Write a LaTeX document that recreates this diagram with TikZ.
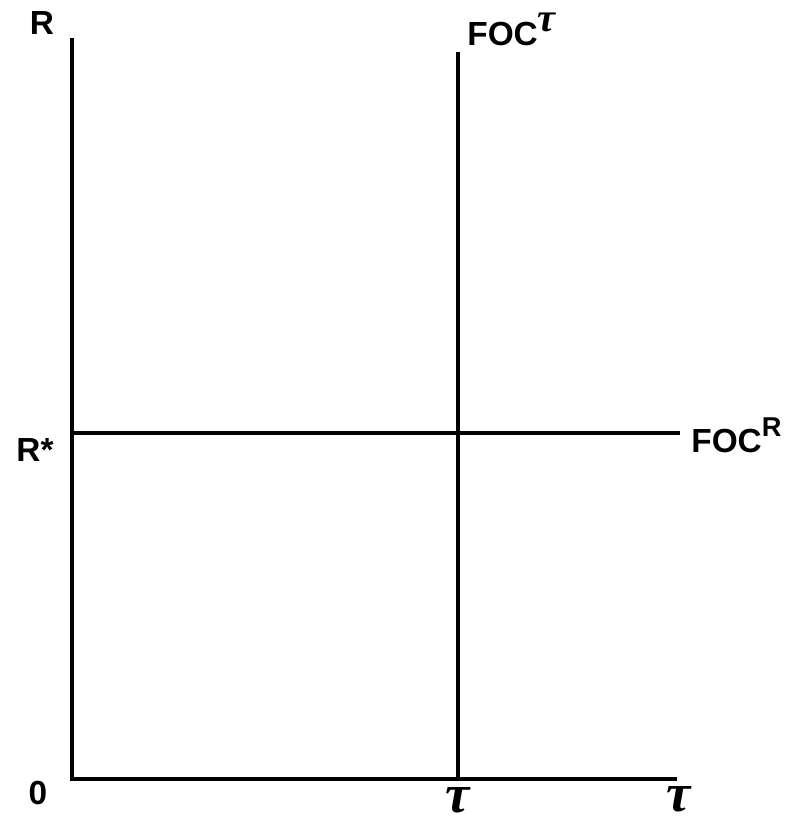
\documentclass[tikz,border=0pt]{standalone}
\usepackage{fontspec}
\setmainfont{Liberation Sans}
\newfontfamily\taufont{Liberation Serif}
\usepackage{tikz}
\usetikzlibrary{positioning}

\newcommand{\tauglyph}{{\taufont\bfseries\itshape τ}}

\begin{document}
\begin{tikzpicture}[x=0.02cm, y=-0.02cm,
    axis/.style={line width=1.8pt},
    lbl/.style={font=\fontsize{19}{21}\selectfont\bfseries, inner sep=0pt},
    taulbl/.style={font=\fontsize{31}{33}\selectfont, inner sep=0pt}]
    \useasboundingbox (0,0) rectangle (787,825);

    % axes
    \coordinate (O) at (72,779);
    \coordinate (ytop) at (72,38);
    \coordinate (xend) at (677,779);
    \draw[axis] (ytop) -- (O) -- (xend);
    \node[lbl] (ylab) at (42,23) {R};
    \node[lbl] (zero) at (38,793) {0};
    \node[taulbl] (xlab) at (679,799) {\tauglyph};

    % FOC tau (vertical)
    \coordinate (vtop) at (458,52);
    \coordinate (vbot) at (458,779);
    \draw[axis] (vtop) -- (vbot);
    \node[lbl, anchor=base west] (foct) at (467,45)
      {FOC\raisebox{0.75ex}{\fontsize{23}{25}\selectfont\tauglyph}};
    \node[taulbl] (tstar) at (458,800) {\tauglyph};

    % FOC R (horizontal)
    \coordinate (hleft) at (72,433);
    \coordinate (hright) at (680,433);
    \draw[axis] (hleft) -- (hright);
    \node[lbl] (rstar) at (35,450) {R*};
    \node[lbl, anchor=base west] (focr) at (691,452)
      {FOC\raisebox{0.9ex}{\fontsize{15.5}{17}\selectfont R}};
\end{tikzpicture}
\end{document}
